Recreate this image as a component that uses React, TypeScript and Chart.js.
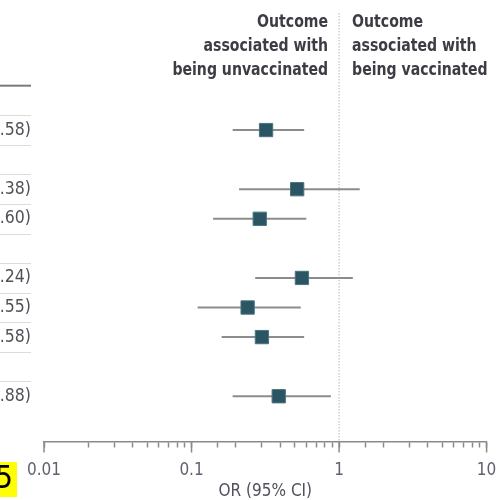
import React, { useEffect, useRef } from 'react';
import { Chart, registerables } from 'chart.js';

Chart.register(...registerables);

// ---- data ----
const rowIndex = [0, 2, 3, 5, 6, 7, 9];
const oddsRatio = [0.32, 0.52, 0.29, 0.56, 0.24, 0.3, 0.39];
const ciLower = [0.19, 0.21, 0.14, 0.27, 0.11, 0.16, 0.19];
const ciUpper = [0.58, 1.38, 0.6, 1.24, 0.55, 0.58, 0.88];
const xTickValues = [0.01, 0.1, 1, 10];
const leftHeader = ['Outcome', 'associated with', 'being unvaccinated'];
const rightHeader = ['Outcome', 'associated with', 'being vaccinated'];
const axisTitle = 'OR (95% CI)';
const panelLabel = '5';
const separatorRows = [-0.5, 0.5, 1.5, 2.5, 3.5, 4.5, 5.5, 6.5, 7.5, 8.5];
const headerRuleRow = -1.5;

const FONT = "'DejaVu Sans Condensed', 'DejaVu Sans', sans-serif";
const HEAD_SCALE = 0.87;

const ciText = (i: number) =>
  `${oddsRatio[i].toFixed(2)} (${ciLower[i].toFixed(2)}-${ciUpper[i].toFixed(2)})`;

const drawNarrow = (ctx: any, text: string, px: number, py: number, align: 'left' | 'right') => {
  ctx.save();
  ctx.translate(px, py);
  ctx.scale(HEAD_SCALE, 1);
  ctx.textAlign = align;
  ctx.fillText(text, 0, 0);
  ctx.restore();
};

const decorPlugin = {
  id: 'decor',
  beforeDatasetsDraw(chart: any) {
    const { ctx, chartArea, scales } = chart;
    const x = scales.x;
    const x1 = x.getPixelForValue(1);
    ctx.save();
    ctx.strokeStyle = '#b5b5b5';
    ctx.lineWidth = 1;
    ctx.setLineDash([1.5, 1.5]);
    ctx.beginPath();
    ctx.moveTo(x1, 13);
    ctx.lineTo(x1, chartArea.bottom);
    ctx.stroke();
    ctx.restore();
  },
  afterDraw(chart: any) {
    const { ctx, chartArea, scales } = chart;
    const x = scales.x;
    const y = scales.y;
    const x1 = x.getPixelForValue(1);
    ctx.save();
    // header text
    ctx.fillStyle = '#3c3c44';
    ctx.font = `bold 18px ${FONT}`;
    ctx.textBaseline = 'middle';
    const lineYs = [22, 46, 70];
    leftHeader.forEach((t, i) => drawNarrow(ctx, t, x1 - 11, lineYs[i], 'right'));
    rightHeader.forEach((t, i) => drawNarrow(ctx, t, x1 + 13, lineYs[i], 'left'));

    // left table rules
    ctx.strokeStyle = '#dcdcdc';
    ctx.lineWidth = 1;
    separatorRows.forEach((r) => {
      const py = Math.round(y.getPixelForValue(r)) + 0.5;
      ctx.beginPath();
      ctx.moveTo(0, py);
      ctx.lineTo(31, py);
      ctx.stroke();
    });
    ctx.strokeStyle = '#7a7a7a';
    ctx.lineWidth = 2;
    const hy = y.getPixelForValue(headerRuleRow);
    ctx.beginPath();
    ctx.moveTo(0, hy);
    ctx.lineTo(31, hy);
    ctx.stroke();

    // left table text
    ctx.fillStyle = '#505058';
    ctx.font = `17.5px ${FONT}`;
    ctx.textAlign = 'right';
    ctx.textBaseline = 'middle';
    rowIndex.forEach((r, i) => ctx.fillText(ciText(i), 31, y.getPixelForValue(r)));

    // longer major ticks
    ctx.strokeStyle = '#8a8a8a';
    ctx.lineWidth = 1.5;
    xTickValues.forEach((v) => {
      const px = x.getPixelForValue(v);
      ctx.beginPath();
      ctx.moveTo(px, chartArea.bottom);
      ctx.lineTo(px, chartArea.bottom + 11);
      ctx.stroke();
    });

    // panel label
    ctx.fillStyle = '#ffff00';
    ctx.fillRect(0, 462, 17, 35);
    ctx.fillStyle = '#000000';
    ctx.font = `32px ${FONT}`;
    ctx.textAlign = 'right';
    ctx.textBaseline = 'middle';
    ctx.fillText(panelLabel, 13, 480);
    ctx.restore();
  },
};

export default function App() {
  const ref = useRef<HTMLCanvasElement | null>(null);
  useEffect(() => {
    if (!ref.current) return;
    const pointData = rowIndex.map((r, i) => ({ x: oddsRatio[i], y: r }));
    const ciSets = rowIndex.map((r, i) => ({
      type: 'line' as const,
      data: [
        { x: ciLower[i], y: r },
        { x: ciUpper[i], y: r },
      ],
      borderColor: '#8c8c8c',
      borderWidth: 2,
      pointRadius: 0,
      showLine: true,
      fill: false,
    }));
    const chart = new Chart(ref.current, {
      type: 'scatter',
      data: {
        datasets: [
          {
            data: pointData,
            pointStyle: 'rect',
            pointRadius: 9.4,
            backgroundColor: '#2c5564',
            borderColor: '#4a7380',
            borderWidth: 1,
          },
          ...ciSets,
        ] as any,
      },
      options: {
        responsive: false,
        animation: false,
        layout: { padding: { left: 44, right: 10, top: 0, bottom: 0 } },
        plugins: { legend: { display: false }, tooltip: { enabled: false } },
        scales: {
          x: {
            type: 'logarithmic',
            min: 0.01,
            max: 10,
            position: 'bottom',
            afterFit: (s: any) => {
              s.height = 58.5;
              s.paddingLeft = 0;
              s.paddingRight = 0;
            },
            border: { display: true, color: '#8a8a8a', width: 1.5 },
            grid: {
              display: true,
              drawOnChartArea: false,
              drawTicks: true,
              tickLength: 6,
              tickColor: '#8a8a8a',
              tickWidth: 1.5,
            },
            ticks: {
              autoSkip: false,
              maxRotation: 0,
              padding: 13,
              color: '#606070',
              font: { family: FONT, size: 17 },
              callback: (v: any) => {
                const n = Number(v);
                return xTickValues.some((t) => Math.abs(t - n) < 1e-9) ? String(n) : '';
              },
            },
            title: {
              display: true,
              text: axisTitle,
              color: '#505060',
              font: { family: FONT, size: 17 },
              padding: { top: 0, bottom: -2 },
            },
          },
          y: {
            type: 'linear',
            reverse: true,
            min: -4.045,
            max: 10.53,
            display: false,
          },
        },
      },
      plugins: [decorPlugin],
    } as any);
    return () => chart.destroy();
  }, []);
  return (
    <div style={{ position: 'absolute', left: 0, top: 0, width: 497, height: 500 }}>
      <canvas ref={ref} width={497} height={500} style={{ display: 'block' }} />
    </div>
  );
}
